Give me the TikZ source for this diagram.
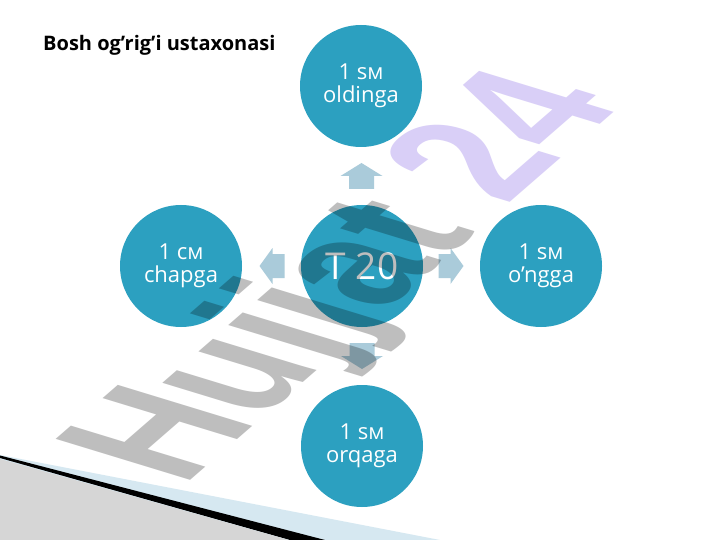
\documentclass[tikz,border=0pt]{standalone}
\usepackage{fontspec}
\setmainfont{Open Sans}
\newfontfamily\wmfont{Liberation Sans}
\usetikzlibrary{calc}
\definecolor{circfill}{RGB}{44,160,192}
\definecolor{arrowfill}{RGB}{170,203,218}
\definecolor{wmgray}{RGB}{190,190,190}
\definecolor{wmpurple}{RGB}{217,207,247}
\definecolor{bandblue}{RGB}{214,232,241}
\definecolor{hatchgray}{RGB}{214,214,214}
\tikzset{
  circ/.style={circle, fill=circfill, minimum size=122pt, inner sep=0pt,
    text=white, align=center, font=\fontsize{22}{22.5}\selectfont},
  blockarr/.style={fill=arrowfill, draw=none},
  wm/.style={inner sep=0pt, anchor=base west, transform shape, font=\wmfont\bfseries\fontsize{140}{140}\selectfont},
}
\begin{document}
\begin{tikzpicture}[x=1pt,y=-1pt]
\useasboundingbox (0,0) rectangle (720,540);
\fill[white] (0,0) rectangle (720,540);
% bottom-left decoration
\fill[bandblue] (0,455) -- (440,540) -- (0,540) -- cycle;
\fill[black] (0,455.5) -- (325,540) -- (290,540) -- (0,458) -- cycle;
\fill[hatchgray] (0,459) -- (289,540) -- (0,540) -- cycle;
% title
\node[anchor=base west, inner sep=0pt, font=\bfseries\fontsize{20}{22}\selectfont] (title) at (43,51) {Bosh og’rig’i ustaxonasi};
% circles
\node[circ] (c) at (362,266) {\fontsize{37}{40}\selectfont T 20};
\node[circ] (t) at (361,86) {1 sм\\oldinga};
\node[circ] (l) at (181,266) {1 см\\chapga};
\node[circ] (r) at (541,266) {1 sм\\o’ngga};
\node[circ] (b) at (362,446) {1 sм\\orqaga};
% block arrows
\coordinate (mu) at ($(c.north)!0.5!(t.south)$);
\coordinate (md) at ($(c.south)!0.5!(b.north)$);
\coordinate (ml) at ($(c.west)!0.5!(l.east)$);
\coordinate (mr) at ($(c.east)!0.5!(r.west)$);
\fill[blockarr] ([shift={(0,-13)}]mu) -- ([shift={(21,0)}]mu) -- ([shift={(12.5,0)}]mu) -- ([shift={(12.5,13)}]mu) -- ([shift={(-12.5,13)}]mu) -- ([shift={(-12.5,0)}]mu) -- ([shift={(-21,0)}]mu) -- cycle;
\fill[blockarr] ([shift={(0,13)}]md) -- ([shift={(21,0)}]md) -- ([shift={(12.5,0)}]md) -- ([shift={(12.5,-13)}]md) -- ([shift={(-12.5,-13)}]md) -- ([shift={(-12.5,0)}]md) -- ([shift={(-21,0)}]md) -- cycle;
\fill[blockarr] ([shift={(-12,0)}]ml) -- ([shift={(1,-18)}]ml) -- ([shift={(1,-12)}]ml) -- ([shift={(13,-12)}]ml) -- ([shift={(13,12)}]ml) -- ([shift={(1,12)}]ml) -- ([shift={(1,18)}]ml) -- cycle;
\fill[blockarr] ([shift={(12,0)}]mr) -- ([shift={(-1,-18)}]mr) -- ([shift={(-1,-12)}]mr) -- ([shift={(-13,-12)}]mr) -- ([shift={(-13,12)}]mr) -- ([shift={(-1,12)}]mr) -- ([shift={(-1,18)}]mr) -- cycle;
% watermark (slanted, stretched)
\begin{scope}[blend mode=multiply, shift={(183.5,486.5)}]
\begin{scope}[cm={0.755,0.656,-1.396,0.426,(0,0)}]
\node[wm] (wm) at (0,0) {\textcolor{wmgray}{Hujjat} \textcolor{wmpurple}{24}};
\end{scope}
\end{scope}
\end{tikzpicture}
\end{document}
